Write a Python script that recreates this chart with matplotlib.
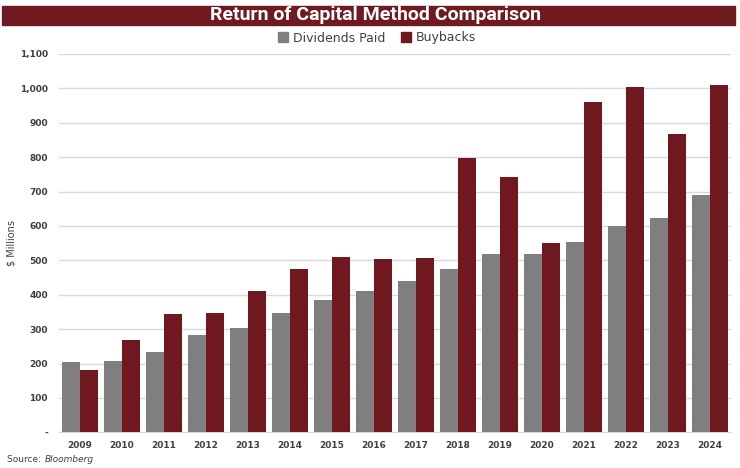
import matplotlib.pyplot as plt
import numpy as np
from matplotlib.patches import Rectangle, Patch

years = [str(y) for y in range(2009, 2025)]
dividends = [205, 208, 234, 284, 304, 348, 385, 412, 441, 475, 519, 519, 553, 601, 624, 690]
buybacks = [182, 269, 345, 348, 412, 476, 511, 505, 507, 798, 742, 550, 960, 1005, 868, 1010]
yticks = [0, 100, 200, 300, 400, 500, 600, 700, 800, 900, 1000, 1100]
ytick_labels = ["-", "100", "200", "300", "400", "500", "600", "700", "800", "900", "1,000", "1,100"]

gray = "#7f7f7f"
red = "#6f1820"

fig = plt.figure(figsize=(7.4, 4.68), dpi=100)
ax = fig.add_axes([59 / 740, 1 - 432.3 / 468, 672 / 740, (432.3 - 54) / 468])

x = np.arange(len(years))
w = 0.417
ax.bar(x - w / 2, dividends, w, color=gray, zorder=3)
ax.bar(x + w / 2, buybacks, w, color=red, zorder=3)

ax.set_xlim(-0.5, len(years) - 0.5)
ax.set_ylim(0, 1100)
ax.set_yticks(yticks)
ax.set_yticklabels(ytick_labels, fontsize=6.5, color="#404040", fontweight="bold")
ax.set_xticks(x)
ax.set_xticklabels(years, fontsize=6.5, color="#404040", fontweight="bold")
ax.tick_params(length=0, pad=8)
ax.tick_params(axis="x", pad=6)
ax.grid(axis="y", color="#d9d9d9", linewidth=1, zorder=0)
for s in ["top", "right", "left"]:
    ax.spines[s].set_visible(False)
ax.spines["bottom"].set_color("#d9d9d9")
ax.set_ylabel("$ Millions", fontsize=7, color="#404040")
ax.yaxis.set_label_coords(-0.063, 0.5)

# title banner
fig.patches.append(Rectangle((2 / 740, 1 - 25 / 468), 733 / 740, 19 / 468,
                             transform=fig.transFigure, color="#6e1a20", zorder=0))
fig.text(376 / 740, 1 - 15.5 / 468, "Return of Capital Method Comparison", ha="center", va="center",
         color="white", fontsize=14, fontweight="bold", family=["Roboto", "DejaVu Sans"])

handles = [Patch(color=gray), Patch(color=red)]
fig.legend(handles, ["Dividends Paid", "Buybacks"], loc="center", bbox_to_anchor=(377 / 740, 1 - 38 / 468),
           ncol=2, frameon=False, fontsize=9, handlelength=0.8, handleheight=0.8,
           handletextpad=0.4, columnspacing=1.2, labelcolor="#404040")

src = fig.text(7 / 740, 1 - 459 / 468, "Source: ", fontsize=6.5, color="#404040", va="center")
fig.canvas.draw()
bb = src.get_window_extent()
fig.text(bb.x1 / 740 + 1 / 740, 1 - 459 / 468, "Bloomberg", fontsize=6.5, color="#404040",
         va="center", style="italic")

fig.savefig("out.png", dpi=100)
